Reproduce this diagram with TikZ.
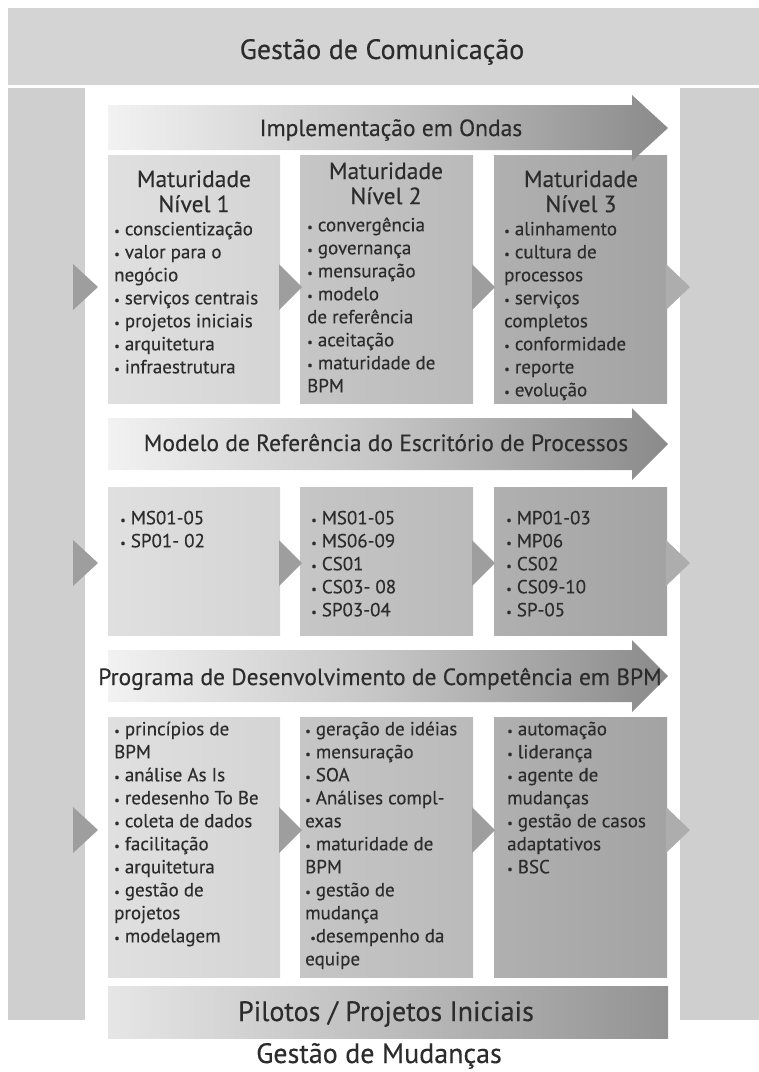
\documentclass[tikz,border=0pt]{standalone}
\usepackage{fontspec}
\setmainfont{PT Sans}[FakeBold=0.3]
\usepackage{graphicx}
\definecolor{band}{HTML}{D4D4D4}
\definecolor{col}{HTML}{CFCFCF}
\definecolor{tc}{HTML}{2C2C2C}
\definecolor{bAl}{HTML}{E0E0E0}\definecolor{bAr}{HTML}{D4D4D4}
\definecolor{bBl}{HTML}{C6C6C6}\definecolor{bBr}{HTML}{BABABA}
\definecolor{bCl}{HTML}{B0B0B0}\definecolor{bCr}{HTML}{A3A3A3}
\definecolor{arl}{HTML}{F2F2F2}\definecolor{arm}{HTML}{C4C4C4}\definecolor{arr}{HTML}{8A8A8A}
\definecolor{tri}{HTML}{9E9E9E}
\newcommand{\bu}{\scalebox{0.65}{•}\ }
\newcommand{\bun}{\scalebox{0.65}{•}}
\begin{document}
\begin{tikzpicture}[x=1pt,y=-1pt,
  boxA/.style={left color=bAl,right color=bAr,draw=none,inner sep=0,anchor=north west},
  boxB/.style={left color=bBl,right color=bBr,draw=none,inner sep=0,anchor=north west},
  boxC/.style={left color=bCl,right color=bCr,draw=none,inner sep=0,anchor=north west},
  txt/.style={font=\fontsize{19}{23}\selectfont,text=tc,align=left,inner sep=0,anchor=north west},
  hdr/.style={font=\fontsize{23.5}{24}\selectfont,text=tc,align=center,inner sep=0,anchor=north},
  big/.style={font=\fontsize{28}{30}\selectfont,text=tc,inner sep=0,anchor=base},
  alab/.style={font=\fontsize{23.5}{26}\selectfont,text=tc,inner sep=0,anchor=base},
  arrowshade/.style={left color=arl,right color=arr,middle color=arm}
]
\useasboundingbox (0,0) rectangle (759,1072);
% frame
\fill[band] (8,8) rectangle (759,85);
\fill[col] (8,88) rectangle (85,1020);
\fill[col] (680,88) rectangle (759,1020);
\node[big] (gc) at (382,59) {Gestão de Comunicação};
\node[big] (gm) at (379,1063) {Gestão de Mudanças};

% row 1 boxes
\node[boxA,minimum width=172,minimum height=248] (r1a) at (108,155) {};
\node[boxB,minimum width=173,minimum height=248] (r1b) at (300,155) {};
\node[boxC,minimum width=173,minimum height=248] (r1c) at (494,155) {};
% row 2 boxes
\node[boxA,minimum width=172,minimum height=148] (r2a) at (108,487) {};
\node[boxB,minimum width=173,minimum height=148] (r2b) at (300,487) {};
\node[boxC,minimum width=173,minimum height=148] (r2c) at (494,487) {};
% row 3 boxes
\node[boxA,minimum width=172,minimum height=260] (r3a) at (108,717) {};
\node[boxB,minimum width=173,minimum height=260] (r3b) at (300,717) {};
\node[boxC,minimum width=173,minimum height=260] (r3c) at (494,717) {};

% arrows
\shade[arrowshade] (108,105) -- (632,105) -- (632,95) -- (668,128) -- (632,161) -- (632,150) -- (108,150) -- cycle;
\shade[arrowshade] (108,418) -- (632,418) -- (632,408) -- (668,444) -- (632,480) -- (632,470) -- (108,470) -- cycle;
\shade[arrowshade] (108,650) -- (632,650) -- (632,640) -- (668,676) -- (632,712) -- (632,702) -- (108,702) -- cycle;
\node[alab] (a1) at (391,136) {Implementação em Ondas};
\node[alab] (a2) at (386,451) {Modelo de Referência do Escritório de Processos};
\node[alab] (a3) at (380,685) {Programa de Desenvolvimento de Competência em BPM};

% pilots bar
\shade[left color=bAl!80!white,middle color=bBl,right color=bCr!90!black] (108,986) rectangle (668,1038);
\node[big] (pil) at (386,1021) {Pilotos / Projetos Iniciais};

% triangles
\foreach \cy in {287,563,830}{
  \fill[tri] (73,\cy-23) -- (98,\cy) -- (73,\cy+23) -- cycle;
  \fill[tri] (279,\cy-23) -- (302,\cy) -- (279,\cy+23) -- cycle;
  \fill[tri] (472,\cy-23) -- (495,\cy) -- (472,\cy+23) -- cycle;
  \fill[tri!85!white] (666,\cy-23) -- (690,\cy) -- (666,\cy+23) -- cycle;
}

% row 1 text
\node[hdr] (h1) at (194,170) {\strut Maturidade\\Nível 1};
\node[hdr] (h2) at (386,162) {\strut Maturidade\\Nível 2};
\node[hdr] (h3) at (581,170) {\strut Maturidade\\Nível 3};
\node[txt] (t11) at (114,219) {\strut\bu conscientização\\\bu valor para o\\negócio\\\bu serviços centrais\\\bu projetos iniciais\\\bu arquitetura\\\bu infraestrutura};
\node[txt] (t12) at (307,215) {\strut\bu convergência\\\bu governança\\\bu mensuração\\\bu modelo\\de referência\\\bu aceitação\\\bu maturidade de\\BPM};
\node[txt] (t13) at (504,219) {\strut\bu alinhamento\\\bu cultura de\\processos\\\bu serviços\\completos\\\bu conformidade\\\bu reporte\\\bu evolução};
% row 2 text
\node[txt] (t21) at (120,508) {\strut\bu MS01-05\\\bu SP01- 02};
\node[txt] (t22) at (311,508) {\strut\bu MS01-05\\\bu MS06-09\\\bu CS01\\\bu CS03- 08\\\bu SP03-04};
\node[txt] (t23) at (506,508) {\strut\bu MP01-03\\\bu MP06\\\bu CS02\\\bu CS09-10\\\bu SP-05};
% row 3 text
\node[txt] (t31) at (114,719) {\strut\bu princípios de\\BPM\\\bu análise As Is\\\bu redesenho To Be\\\bu coleta de dados\\\bu facilitação\\\bu arquitetura\\\bu gestão de\\projetos\\\bu modelagem};
\node[txt] (t32) at (305,719) {\strut\bu geração de idéias\\\bu mensuração\\\bu SOA\\\bu Análises compl-\\exas\\\bu maturidade de\\BPM\\\bu gestão de\\mudança\\\ \bun desempenho da\\equipe};
\node[txt] (t33) at (507,719) {\strut\bu automação\\\bu liderança\\\bu agente de\\mudanças\\\bu gestão de casos\\adaptativos\\\bu BSC};
\end{tikzpicture}
\end{document}
